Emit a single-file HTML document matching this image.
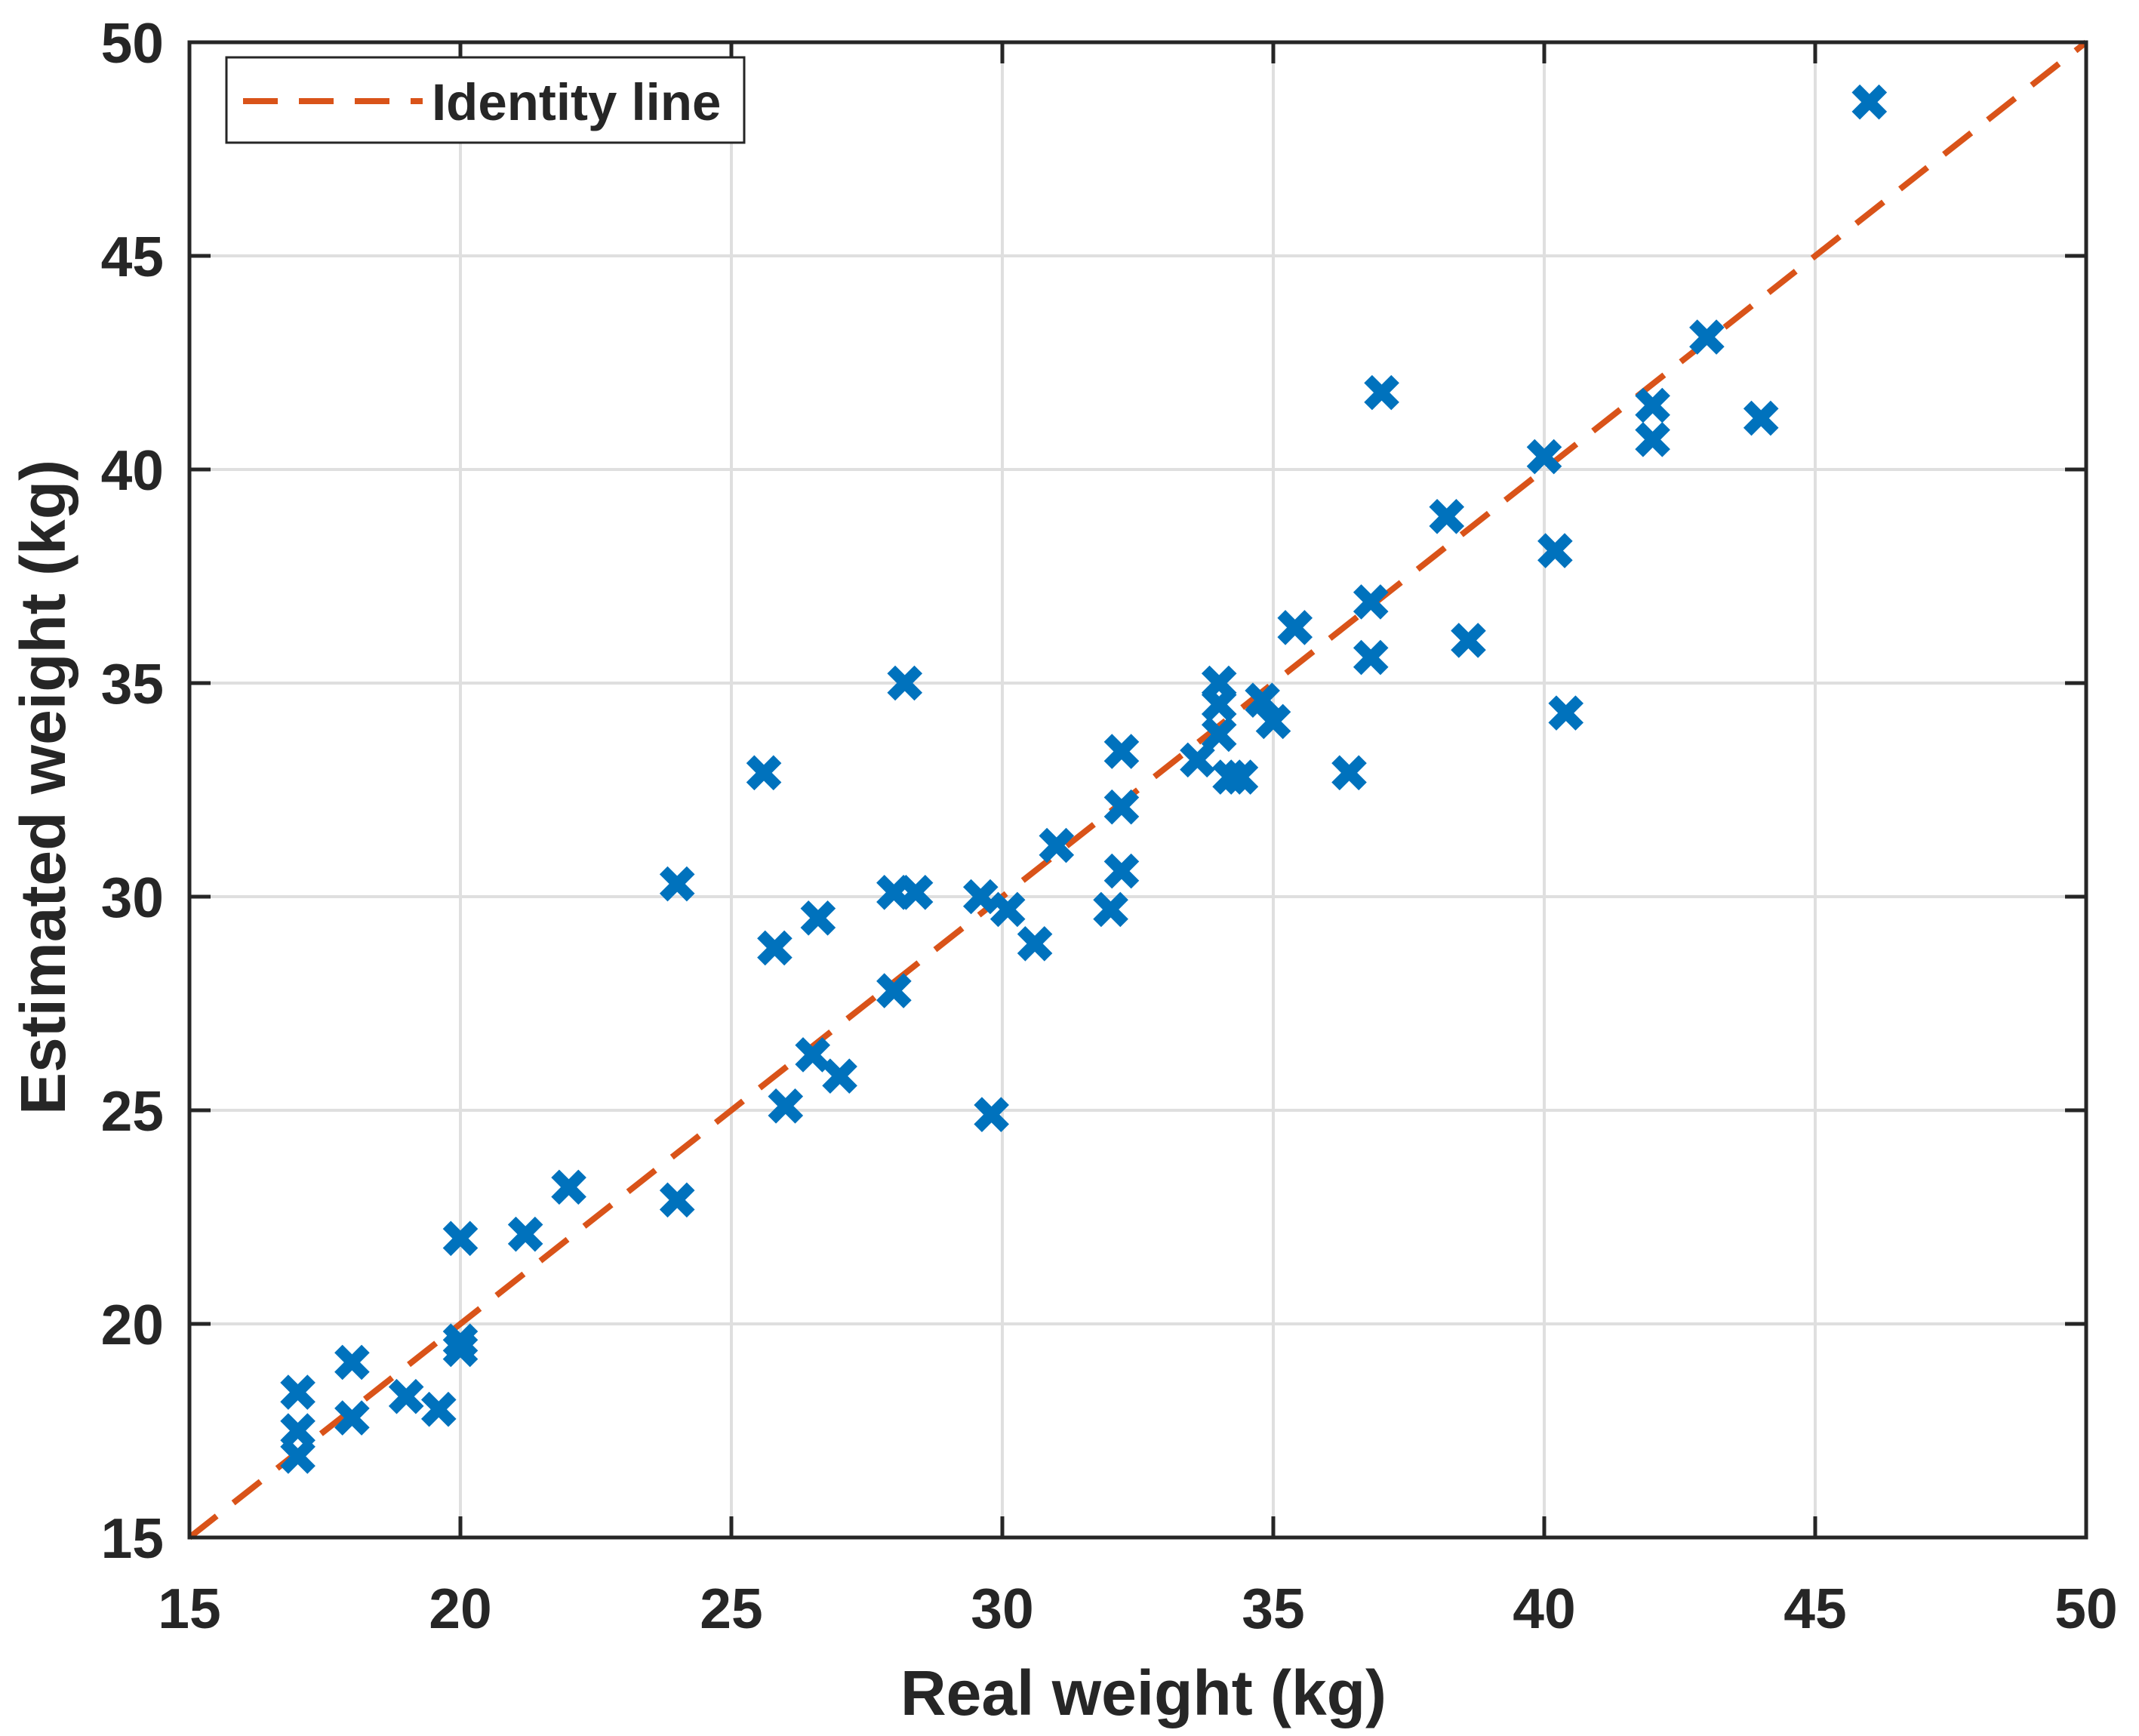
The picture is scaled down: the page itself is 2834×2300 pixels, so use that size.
<!DOCTYPE html>
<html><head><meta charset="utf-8"><style>
html,body{margin:0;padding:0;background:#fff;width:2834px;height:2300px;overflow:hidden}
text{font-family:"Liberation Sans",Arial,sans-serif;font-weight:bold;fill:#262626}
</style></head><body>
<svg id="chart" width="2834" height="2300" viewBox="0 0 2834 2300" xmlns="http://www.w3.org/2000/svg">
<rect width="2834" height="2300" fill="#fff"/>
<g id="grid"></g>
<g id="identity"></g>
<g id="points"></g>
<g id="axes"></g>
<text x="1515" y="2272" font-size="84" text-anchor="middle">Real weight (kg)</text>
<text x="86" y="1043" font-size="84" text-anchor="middle" transform="rotate(-90 86 1043)">Estimated weight (kg)</text>
<g>
<rect x="300" y="76" width="686" height="113" fill="#fff" stroke="#262626" stroke-width="3"/>
<line x1="322" y1="134" x2="560" y2="134" stroke="#D95319" stroke-width="8" stroke-dasharray="46,28"/>
<text x="572" y="159" font-size="69">Identity line</text>
</g>
</svg>
<script>
const realWeight=[17,17,17,18,18,19,19.6,20,20,20,21.2,22,24,24,25.6,25.8,26,26.5,26.6,27,28,28,28.2,28.4,29.6,29.8,30.1,30.6,31,32,32.2,32.2,32.2,33.6,34,34,34,34.2,34.4,34.8,35,35.4,36.4,36.8,36.8,37,38.2,38.6,40,40.2,40.4,42,42,43,44,46];
const estWeight=[18.4,17.5,16.9,19.1,17.8,18.3,18.0,22.0,19.6,19.4,22.1,23.2,30.3,22.9,32.9,28.8,25.1,26.3,29.5,25.8,30.1,27.8,35.0,30.1,30.0,24.9,29.7,28.9,31.2,29.7,33.4,32.1,30.6,33.2,35.0,34.5,33.8,32.8,32.8,34.6,34.1,36.3,32.9,36.9,35.6,41.8,38.9,36.0,40.3,38.1,34.3,41.5,40.7,43.1,41.2,48.6];
const xTicks=[15,20,25,30,35,40,45,50];
const yTicks=[15,20,25,30,35,40,45,50];
const identity=[15,50];
const L=251,R=2764,T=56,B=2037,xmin=15,xmax=50,ymin=15,ymax=50;
const NS="http://www.w3.org/2000/svg";
function sx(v){return L+(v-xmin)/(xmax-xmin)*(R-L);}
function sy(v){return B-(v-ymin)/(ymax-ymin)*(B-T);}
function mk(tag,attrs,parent){const e=document.createElementNS(NS,tag);for(const k in attrs)e.setAttribute(k,attrs[k]);parent.appendChild(e);return e;}
const grid=document.getElementById('grid'),axes=document.getElementById('axes'),pts=document.getElementById('points'),idg=document.getElementById('identity');
xTicks.forEach(v=>{
  const g=mk('line',{x1:sx(v),x2:sx(v),y1:T,y2:B,stroke:'#dfdfdf','stroke-width':4},grid);
  
  
  [[B,B-28],[T,T+28]].forEach(p=>{const t=mk('line',{x1:sx(v),x2:sx(v),y1:p[0],y2:p[1],stroke:'#262626','stroke-width':5},axes);
  
  });
  const tl=mk('text',{x:sx(v),y:B+120,'font-size':75,'text-anchor':'middle'},axes);tl.textContent=v;
  
  
});
yTicks.forEach(v=>{
  const g=mk('line',{x1:L,x2:R,y1:sy(v),y2:sy(v),stroke:'#dfdfdf','stroke-width':4},grid);
  
  
  [[L,L+28],[R,R-28]].forEach(p=>{const t=mk('line',{x1:p[0],x2:p[1],y1:sy(v),y2:sy(v),stroke:'#262626','stroke-width':5},axes);
  
  });
  const tl=mk('text',{x:L-34,y:sy(v)+27,'font-size':75,'text-anchor':'end'},axes);tl.textContent=v;
  
  
});
const fr=mk('rect',{x:L,y:T,width:R-L,height:B-T,fill:'none',stroke:'#262626','stroke-width':5},axes);


const il=mk('line',{x1:sx(identity[0]),y1:sy(identity[0]),x2:sx(identity[1]),y2:sy(identity[1]),stroke:'#D95319','stroke-width':8,'stroke-dasharray':'46,28'},idg);


realWeight.forEach((x,i)=>{
  const cx=sx(x),cy=sy(estWeight[i]),h=18;
  const p=mk('path',{d:`M${cx-h},${cy-h}L${cx+h},${cy+h}M${cx-h},${cy+h}L${cx+h},${cy-h}`,stroke:'#0072BD','stroke-width':15,fill:'none'},pts);
  
  
});
</script>
</body></html>
